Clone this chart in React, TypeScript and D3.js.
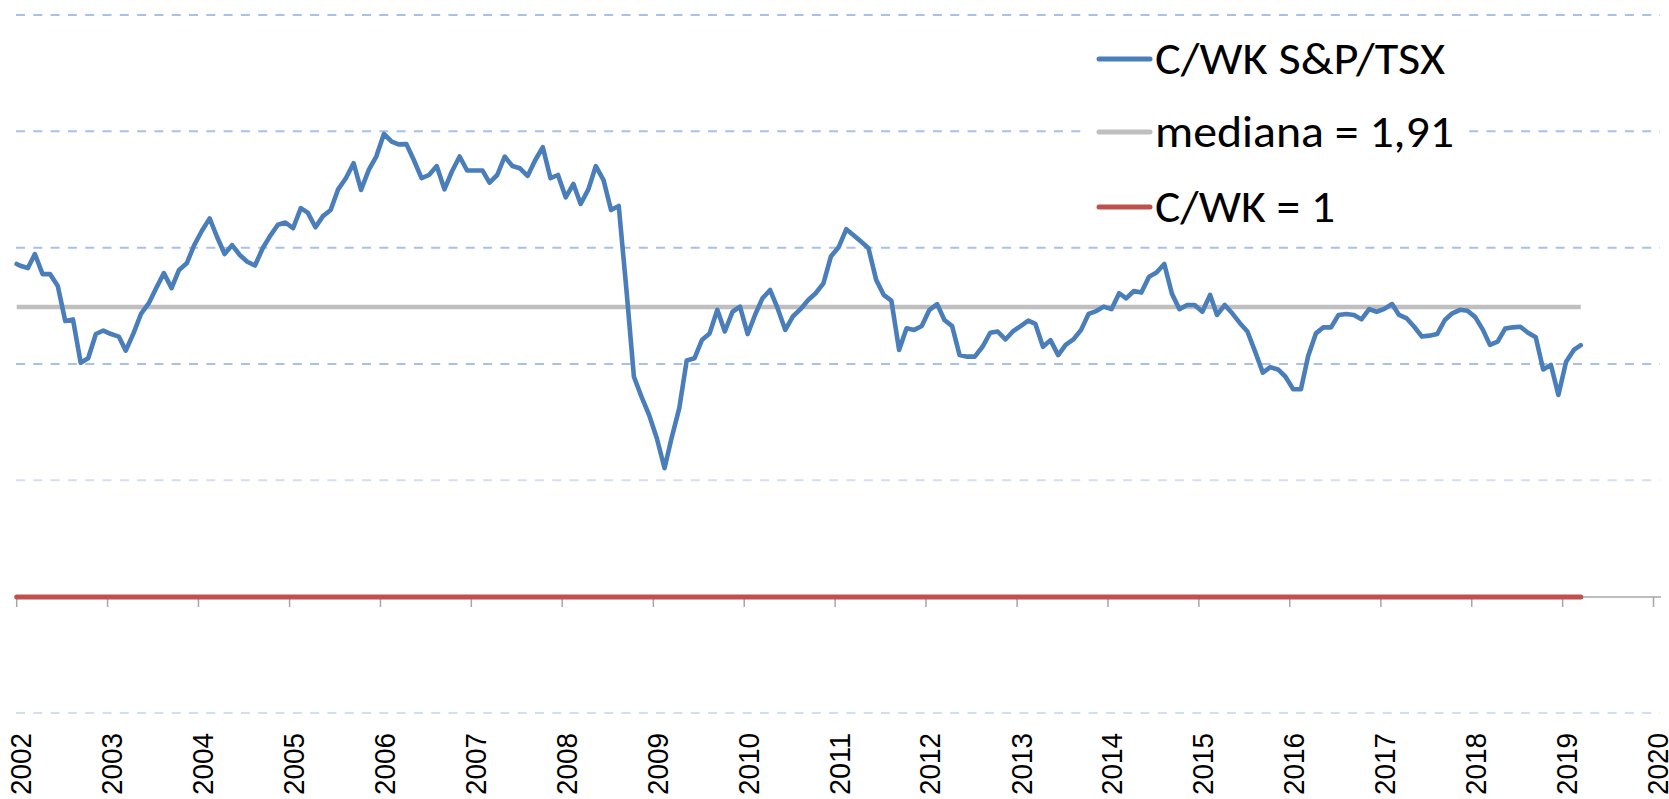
import React from "react";
import * as d3 from "d3";

// C/WK (P/BV) S&P/TSX, monthly readings; the first value is the series start (1 Jan 2002)
const seriesValues: number[] = [
  2.045,
  2.039, 2.032, 2.076, 2.013, 2.013, 1.976, 1.866, 1.871, 1.735, 1.749, 1.825, 1.836,
  1.825, 1.817, 1.773, 1.827, 1.888, 1.921, 1.969, 2.016, 1.969, 2.026, 2.047, 2.104,
  2.149, 2.188, 2.131, 2.076, 2.104, 2.073, 2.052, 2.040, 2.094, 2.133, 2.168, 2.175,
  2.157, 2.220, 2.206, 2.160, 2.195, 2.214, 2.279, 2.314, 2.361, 2.277, 2.340, 2.382,
  2.453, 2.429, 2.420, 2.421, 2.371, 2.314, 2.324, 2.352, 2.279, 2.335, 2.382, 2.338,
  2.338, 2.338, 2.300, 2.324, 2.382, 2.352, 2.345, 2.321, 2.371, 2.411, 2.314, 2.324,
  2.254, 2.296, 2.233, 2.279, 2.352, 2.308, 2.214, 2.227, 1.963, 1.691, 1.627, 1.571,
  1.498, 1.404, 1.498, 1.592, 1.742, 1.749, 1.806, 1.827, 1.901, 1.833, 1.895, 1.911,
  1.825, 1.888, 1.937, 1.963, 1.906, 1.838, 1.880, 1.903, 1.932, 1.953, 1.984, 2.068,
  2.097, 2.154, 2.136, 2.115, 2.094, 1.995, 1.948, 1.930, 1.775, 1.843, 1.838, 1.850,
  1.901, 1.919, 1.869, 1.850, 1.759, 1.754, 1.754, 1.785, 1.829, 1.833, 1.808, 1.833,
  1.850, 1.867, 1.857, 1.785, 1.806, 1.759, 1.791, 1.808, 1.838, 1.888, 1.897, 1.911,
  1.903, 1.953, 1.937, 1.960, 1.955, 2.005, 2.018, 2.045, 1.951, 1.903, 1.916, 1.916,
  1.895, 1.948, 1.885, 1.916, 1.890, 1.859, 1.833, 1.770, 1.704, 1.721, 1.714, 1.691,
  1.652, 1.652, 1.756, 1.827, 1.846, 1.846, 1.885, 1.888, 1.885, 1.871, 1.903, 1.895,
  1.904, 1.919, 1.885, 1.874, 1.848, 1.817, 1.820, 1.825, 1.869, 1.890, 1.901, 1.898,
  1.878, 1.838, 1.791, 1.801, 1.842, 1.846, 1.848, 1.829, 1.815, 1.714, 1.728, 1.634,
  1.738, 1.775, 1.790,
];

// dates: start point, then mid-month observations Jan 2002 .. Mar 2019
const seriesDates: Date[] = seriesValues.map((_, k) =>
  k === 0 ? new Date(2002, 0, 1) : new Date(2002, k - 1, 15)
);

const medianValue = 1.91;
const thresholdValue = 1;

const yearTicks: number[] = d3.range(2002, 2021);
const gridValues: number[] = [0.636, 1.366, 1.731, 2.096, 2.461, 2.826];

const legendLabels: string[] = ["C/WK S&P/TSX", "mediana = 1,91", "C/WK = 1"];
const legendColors: string[] = ["#4a7ebb", "#bfbfbf", "#c0504d"];

const W = 1669;
const H = 799;

export default function App() {
  const x = d3
    .scaleTime()
    .domain([new Date(2002, 0, 1), new Date(2020, 0, 1)])
    .range([16.7, 1653.5]);
  const y = d3.scaleLinear().domain([0.636, 2.826]).range([713, 15]);

  const firstDate = seriesDates[0];
  const lastDate = seriesDates[seriesDates.length - 1];

  const line = d3
    .line<number>()
    .x((_, i) => x(seriesDates[i]))
    .y((d) => y(d));

  const axisY = y(thresholdValue);

  const legendRowY = [59, 132, 207];
  const legendTextLen = [290, 299, 180];

  return (
    <svg
      width={W}
      height={H}
      style={{ position: "absolute", left: 0, top: 0, background: "#fff" }}
    >
      <rect x={0} y={0} width={W} height={H} fill="#fff" />
      {/* gridlines */}
      {gridValues.map((g, i) => (
        <line
          key={"g" + i}
          x1={16}
          x2={1660}
          y1={y(g)}
          y2={y(g)}
          stroke={g < 1.5 ? "#d3ddf3" : "#a9c1ea"}
          strokeWidth={2}
          strokeDasharray="9 8.3"
        />
      ))}
      {/* axis */}
      <line x1={16} x2={1661} y1={axisY} y2={axisY} stroke="#a6a6a6" strokeWidth={1.5} />
      {yearTicks.map((yr) => {
        const tx = x(new Date(yr, 0, 1));
        return (
          <g key={"t" + yr}>
            <line x1={tx} x2={tx} y1={axisY} y2={axisY + 10} stroke="#a6a6a6" strokeWidth={1.5} />
            <text
              transform={`translate(${tx + 14.5},733) rotate(-90)`}
              textAnchor="end"
              fontFamily="'Liberation Sans', Arial, sans-serif"
              fontSize={29}
              textLength={62}
              lengthAdjust="spacingAndGlyphs"
              fill="#000"
            >
              {yr}
            </text>
          </g>
        );
      })}
      {/* median */}
      <line
        x1={x(firstDate)}
        x2={x(lastDate)}
        y1={y(medianValue)}
        y2={y(medianValue)}
        stroke="#bfbfbf"
        strokeWidth={4.5}
      />
      {/* C/WK = 1 */}
      <line
        x1={x(firstDate)}
        x2={x(lastDate)}
        y1={y(thresholdValue)}
        y2={y(thresholdValue)}
        stroke="#c0504d"
        strokeWidth={5}
        strokeLinecap="round"
      />
      {/* series */}
      <path
        d={line(seriesValues) || ""}
        fill="none"
        stroke="#4a7ebb"
        strokeWidth={4.6}
        strokeLinejoin="round"
        strokeLinecap="round"
      />
      {/* legend */}
      <rect x={1086} y={26} width={382} height={212} fill="#fff" />
      {legendLabels.map((lab, i) => (
        <g key={"l" + i}>
          <line
            x1={1099}
            x2={1150}
            y1={legendRowY[i]}
            y2={legendRowY[i]}
            stroke={legendColors[i]}
            strokeWidth={5}
            strokeLinecap="round"
          />
          <text
            x={1155}
            y={legendRowY[i] + 15}
            fontFamily="Carlito, Calibri, Lato, sans-serif"
            fontSize={46}
            textLength={legendTextLen[i]}
            lengthAdjust="spacingAndGlyphs"
            fill="#000"
          >
            {lab}
          </text>
        </g>
      ))}
    </svg>
  );
}
